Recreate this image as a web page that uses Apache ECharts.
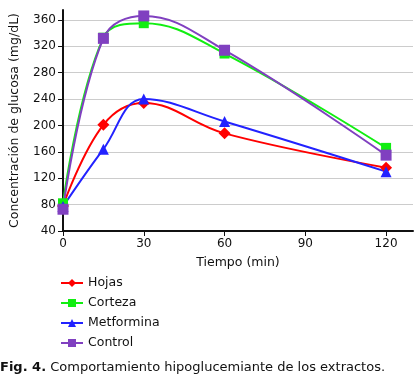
<!DOCTYPE html>
<html><head><meta charset="utf-8">
<script src="https://cdn.jsdelivr.net/npm/echarts@6/dist/echarts.min.js"></script>
<style>html,body{margin:0;padding:0;background:#fff}#c{width:420px;height:382px}</style>
</head><body><div id="c"></div>
<script>
const times = [0, 15, 30, 60, 120];
const hojas = [78, 201, 234, 188, 136];
const corteza = [82, 333, 355, 309, 166];
const metformina = [77, 164, 240, 206, 130];
const control = [73, 332, 366, 314, 155];
const xTicks = [0, 30, 60, 90, 120];
const yTicks = [40, 80, 120, 160, 200, 240, 280, 320, 360];
const seriesNames = ['Hojas', 'Corteza', 'Metformina', 'Control'];

const FONT = 'DejaVu Sans';
const pair = arr => times.map((t, i) => [t, arr[i]]);
function mk(name, data, color, symbol, size) {
  return { name, type: 'line', data: pair(data), smooth: 0.4,
    symbol, symbolSize: size, showSymbol: true,
    lineStyle: { color, width: 2 }, itemStyle: { color }, z: 3 };
}
const chart = echarts.init(document.getElementById('c'), null, { renderer: 'canvas' });
chart.setOption({
  animation: false,
  textStyle: { fontFamily: FONT },
  title: {
    text: '{b|Fig. 4.} Comportamiento hipoglucemiante de los extractos.',
    left: 0, top: 361, padding: 0,
    textStyle: { fontSize: 13, fontWeight: 'normal', color: '#111', fontFamily: FONT,
      rich: { b: { fontWeight: 'bold', fontSize: 13, color: '#111', fontFamily: FONT } } }
  },
  legend: {
    orient: 'vertical', left: 55, top: 271, itemGap: 6, itemWidth: 22, itemHeight: 10,
    data: seriesNames,
    textStyle: { fontSize: 12.5, color: '#111', fontFamily: FONT, lineHeight: 14 }
  },
  grid: { left: 60, right: 7, top: 10, bottom: 151, containLabel: false },
  xAxis: {
    type: 'value', min: 0, max: 130,
    name: 'Tiempo (min)', nameLocation: 'middle', nameGap: 25,
    nameTextStyle: { fontSize: 12.5, color: '#111', fontFamily: FONT },
    axisLine: { show: true, onZero: false, lineStyle: { color: '#111', width: 2 } },
    axisTick: { show: true, length: 5, customValues: xTicks, lineStyle: { color: '#111' } },
    axisLabel: { customValues: xTicks, fontSize: 12, color: '#111', margin: 7, fontFamily: FONT },
    splitLine: { show: false }
  },
  yAxis: {
    type: 'value', min: 40, max: 375,
    name: 'Concentración de glucosa (mg/dL)', nameLocation: 'middle', nameGap: 42,
    nameTextStyle: { fontSize: 12.5, color: '#111', fontFamily: FONT },
    axisLine: { show: true, onZero: false, lineStyle: { color: '#111', width: 2 } },
    axisTick: { show: true, length: 5, customValues: yTicks, lineStyle: { color: '#111' } },
    axisLabel: { customValues: yTicks, fontSize: 12, color: '#111', margin: 7, fontFamily: FONT },
    splitLine: { show: true, lineStyle: { color: '#cccccc', width: 1 } }
  },
  series: [
    mk('Hojas', hojas, '#ff0000', 'diamond', 12),
    mk('Corteza', corteza, '#11ee11', 'rect', 10),
    mk('Metformina', metformina, '#2222ff', 'triangle', 11),
    mk('Control', control, '#8040c0', 'rect', 11)
  ]
});
</script></body></html>
